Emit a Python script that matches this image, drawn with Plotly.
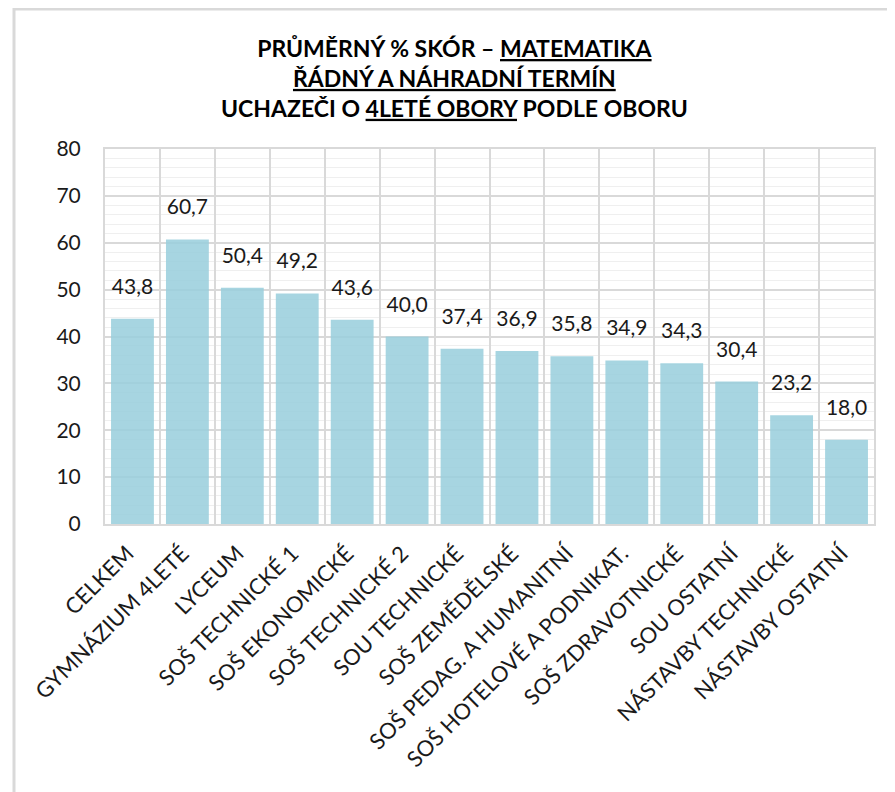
import plotly.graph_objects as go

obory = ["CELKEM", "GYMNÁZIUM 4LETÉ", "LYCEUM", "SOŠ TECHNICKÉ 1", "SOŠ EKONOMICKÉ",
         "SOŠ TECHNICKÉ 2", "SOU TECHNICKÉ", "SOŠ ZEMĚDĚLSKÉ", "SOŠ PEDAG. A HUMANITNÍ",
         "SOŠ HOTELOVÉ A PODNIKAT.", "SOŠ ZDRAVOTNICKÉ", "SOU OSTATNÍ",
         "NÁSTAVBY TECHNICKÉ", "NÁSTAVBY OSTATNÍ"]
skore = [43.8, 60.7, 50.4, 49.2, 43.6, 40.0, 37.4, 36.9, 35.8, 34.9, 34.3, 30.4, 23.2, 18.0]

font = "Lato"
W, H = 887, 784          # page body adds 8px margin on the left/top
L, R, T, B = 97, 21, 141, 268
pw, ph = W - L - R, H - T - B

fig = go.Figure()
fig.add_trace(go.Bar(
    x=obory, y=skore,
    marker=dict(color="rgba(152,206,220,0.85)", line=dict(width=0)),
    hoverinfo="x+y",
))
# value labels, lifted above the bars by an invisible marker
fig.add_trace(go.Scatter(
    x=obory, y=skore, mode="markers+text",
    marker=dict(size=30, opacity=0),
    texttemplate="%{y:.1f}", textposition="top center",
    textfont=dict(size=21, color="#1a1a1a", family=font),
    cliponaxis=False, hoverinfo="skip",
))

title = ("<b>PRŮMĚRNÝ % SKÓR – <u>MATEMATIKA</u></b><br>"
         "<b><u>ŘÁDNÝ A NÁHRADNÍ TERMÍN</u></b><br>"
         "<b>UCHAZEČI O <u>4LETÉ OBORY</u> PODLE OBORU</b>")
fig.add_annotation(text=title, xref="paper", yref="paper",
                   x=(446 - L) / pw, y=(T + ph - 70) / ph,
                   xanchor="center", yanchor="middle", showarrow=False,
                   font=dict(size=23, family=font, color="black"))

fig.update_layout(
    width=W, height=H,
    separators=",.",
    paper_bgcolor="white", plot_bgcolor="white",
    margin=dict(l=L, r=R, t=T, b=B),
    bargap=0.22,
    showlegend=False,
    font=dict(family=font, color="#1a1a1a"),
    xaxis=dict(range=[-0.5, len(obory) - 0.5], tickangle=-45, tickson="boundaries",
               showgrid=True, gridcolor="#d9d9d9", gridwidth=1.5,
               showline=True, linecolor="#d9d9d9", linewidth=2, mirror=True,
               ticks="", ticklabelstandoff=6, ticklabelshift=-5,
               tickfont=dict(size=22, family=font, color="#1a1a1a")),
    yaxis=dict(range=[0, 80], dtick=10, showgrid=True, gridcolor="#d9d9d9", gridwidth=1.5,
               minor=dict(dtick=2, showgrid=True, gridcolor="#efefef", gridwidth=1),
               showline=True, linecolor="#d9d9d9", linewidth=2, mirror=True,
               zeroline=False, ticks="", ticklabelstandoff=18,
               tickfont=dict(size=21, family=font, color="#1a1a1a")),
)

# outer frame of the chart
fig.add_shape(type="rect", xref="paper", yref="paper",
              x0=(6 - L) / pw, x1=(883 - L) / pw,
              y0=(T + ph - 800) / ph, y1=(T + ph - 1) / ph,
              line=dict(color="#d9d9d9", width=3), layer="below")

fig.write_html("out.html")
